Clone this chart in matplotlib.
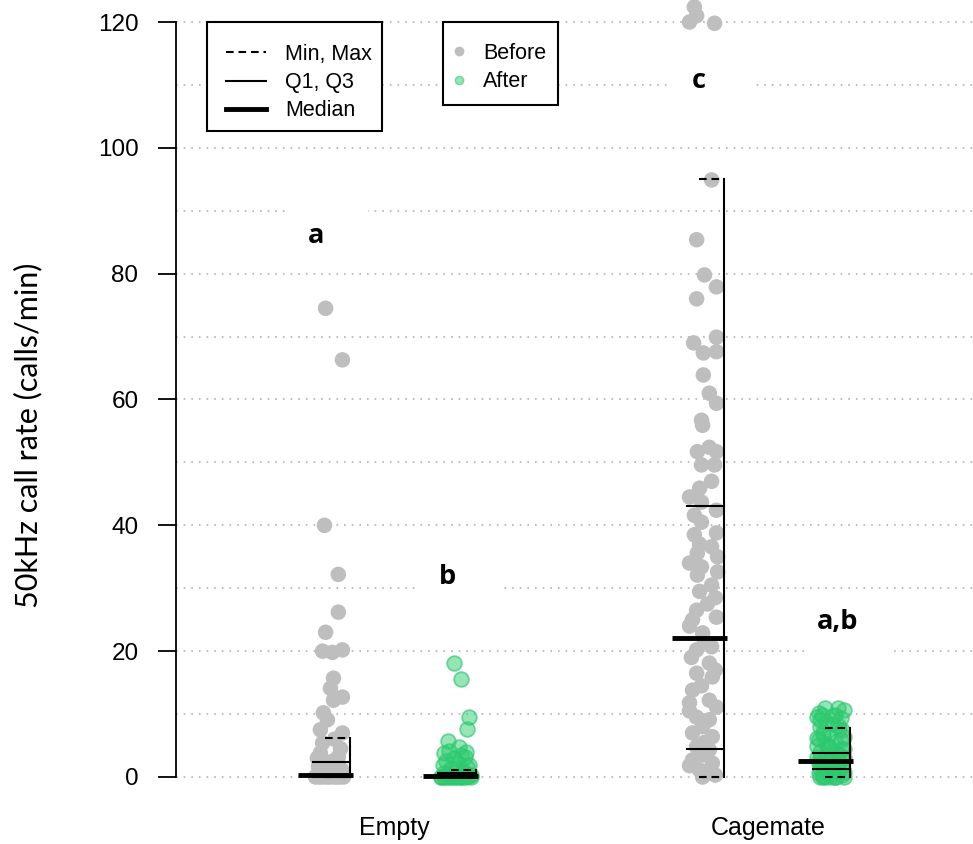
import matplotlib
matplotlib.use('Agg')
import matplotlib.pyplot as plt
from matplotlib.lines import Line2D
from matplotlib.patches import Rectangle
from matplotlib.transforms import blended_transform_factory

plt.rcParams['lines.scale_dashes'] = False
plt.rcParams['font.family'] = ['Liberation Sans', 'DejaVu Sans']

# ---- data ----
categories = ['Empty', 'Cagemate']

empty_before = [74.5, 66.3, 40.0, 32.2, 26.2, 23.0, 20.0, 19.8, 20.2, 15.7, 14.1, 12.7, 12.2, 10.2,
                9.1, 7.5, 7.0, 5.4, 3.8, 3.2, 2.0, 1.6, 1.0, 0.5, 0.2, 0.0, 0.0, 0.0, 0.0, 0.0, 0.0, 0.0,
                6.0, 4.5, 3.0, 2.5, 1.2, 0.8, 0.4, 0.0, 0.0]
empty_before_jit = [-0.013, 0.032, -0.016, 0.021, 0.021, -0.013, -0.021, 0.005, 0.032, 0.008, 0.0, 0.032,
                    0.008, -0.019, -0.008, -0.027, 0.032, -0.021, -0.027, 0.021, -0.003, -0.032, 0.013,
                    0.035, -0.037, -0.040, -0.021, -0.003, 0.016, 0.035, -0.011, 0.024,
                    0.011, 0.027, -0.035, 0.005, 0.029, -0.016, 0.019, 0.008, -0.030]

empty_after = [18.1, 15.6, 9.5, 7.6, 5.7, 4.8, 4.0, 3.8, 3.5, 3.0, 1.9, 1.9, 1.4, 1.0, 0.6, 0.3,
               0.0, 0.0, 0.0, 0.0, 0.0, 0.0, 0.0, 0.0, 0.0, 0.0,
               4.2, 3.2, 2.5, 2.2, 1.6, 1.2, 0.8, 0.5, 0.2, 0.0, 0.0, 0.0]
empty_after_jit = [-0.005, 0.013, 0.035, 0.029, -0.021, 0.008, 0.027, -0.032, 0.013, -0.005, -0.035, 0.035,
                   -0.013, 0.019, -0.032, 0.040, -0.040, -0.027, -0.013, 0.0, 0.013, 0.027, 0.040, -0.019,
                   0.008, -0.040,
                   -0.019, 0.024, -0.027, 0.005, 0.029, -0.008, 0.016, -0.024, 0.032, -0.005, 0.019, -0.032]

cage_before = [122.4, 121.0, 120.0, 119.8, 94.9, 85.4, 79.8, 77.9, 76.0, 69.9, 69.0, 67.4, 67.6, 63.9,
               61.0, 59.4, 56.7, 55.9, 52.4, 51.7, 51.7, 49.6, 49.6, 47.0, 45.9, 44.5, 43.7, 42.4, 41.6,
               40.5, 38.8, 38.5, 37.0, 36.6, 35.6, 35.0, 34.0, 33.4, 32.6, 32.1, 30.5, 29.5, 28.5, 27.5,
               26.5, 25.4, 25.0, 24.0, 22.9, 21.5, 20.7, 20.2, 19.0, 18.1, 17.0, 16.5, 15.9, 14.5, 13.8,
               12.2, 11.8, 11.1, 10.5, 9.5, 9.1, 8.0, 7.0, 6.4, 5.5, 4.8, 4.3, 3.5, 2.7, 2.2, 1.8, 1.1,
               0.6, 0.3, 0.0]
cage_before_jit = [-0.027, -0.021, -0.040, 0.027, 0.019, -0.021, 0.0, 0.032, -0.021, 0.032, -0.029, -0.003,
                   0.032, -0.003, 0.013, 0.032, -0.008, -0.005, 0.013, -0.019, 0.032, -0.008, 0.027, 0.019,
                   -0.013, -0.040, -0.008, 0.032, -0.027, -0.008, 0.032, -0.027, -0.013, 0.019, -0.019,
                   0.035, -0.040, -0.008, 0.035, -0.019, 0.019, -0.013, 0.029, 0.008, -0.021, 0.032,
                   -0.032, -0.040, -0.005, 0.0, 0.019, -0.021, -0.035, 0.013, 0.029, -0.021, 0.021,
                   -0.008, -0.032, 0.013, -0.040, 0.032, -0.040, -0.021, 0.013, -0.005, -0.032, 0.021,
                   0.0, -0.021, 0.013, -0.005, -0.032, 0.021, -0.040, -0.013, 0.013, 0.029, -0.005]

cage_after = [11.0, 11.0, 10.6, 10.2, 9.9, 9.9, 9.5, 9.3, 8.8, 8.4, 8.0, 7.6, 7.2, 6.8, 6.4, 6.0, 5.6,
              5.2, 4.9, 4.5, 4.2, 3.9, 3.6, 3.3, 3.0, 2.7, 2.4, 2.1, 1.8, 1.5, 1.2, 0.9, 0.6, 0.3,
              0.0, 0.0, 0.0, 0.0, 0.0, 0.0,
              9.7, 9.0, 8.2, 7.4, 6.6, 5.8, 5.0, 4.4, 3.8, 3.1, 2.6, 2.0, 1.4, 0.8, 0.4, 0.1,
              6.2, 4.7, 3.4, 2.2, 1.0, 0.0]
cage_after_jit = [-0.016, 0.021, 0.035, -0.032, -0.024, 0.011, -0.035, 0.029, -0.011, 0.008, -0.029, 0.024,
                  -0.019, -0.003, 0.035, -0.032, 0.013, -0.013, -0.035, 0.027, 0.0, -0.027, 0.019, -0.011,
                  0.037, -0.032, 0.008, -0.021, 0.027, -0.027, -0.005, 0.019, -0.032, 0.032, -0.029,
                  -0.013, 0.0, 0.016, 0.035, -0.021,
                  0.003, -0.027, 0.021, 0.032, -0.021, 0.027, -0.008, 0.035, 0.013, -0.035, 0.024,
                  0.011, -0.016, 0.035, 0.008, -0.019,
                  -0.035, -0.003, 0.029, -0.032, 0.024, 0.011]

# summary per group: Empty/Before, Empty/After, Cagemate/Before, Cagemate/After
stat_min = [0.0, 0.0, 0.0, 0.0]
stat_q1 = [0.0, 0.0, 4.5, 1.3]
stat_med = [0.3, 0.15, 22.1, 2.5]
stat_q3 = [2.4, 0.7, 43.0, 3.8]
stat_max = [6.2, 1.1, 95.0, 7.8]

letters = ['a', 'b', 'c', 'a,b']
letter_y = [86.0, 31.8, 110.6, 24.6]

assert len(empty_before) == len(empty_before_jit)
assert len(empty_after) == len(empty_after_jit)
assert len(cage_before) == len(cage_before_jit)
assert len(cage_after) == len(cage_after_jit)

grey = '#bebebe'
green_face = (0.18, 0.8, 0.44, 0.5)
green_edge = (0.18, 0.78, 0.44, 0.65)

W, H = 973, 844
fig = plt.figure(figsize=(W / 100, H / 100), dpi=100)
ax = fig.add_axes([176 / W, 1 - 790 / H, 797 / W, 790 / H])
ax.set_xlim(0.417, 2.548)
ax.set_ylim(-2.07, 123.5)


def ax_frac(px, py):
    # pixel position in the figure -> axes fraction
    return (px - 176) / 797, 1 - py / 790


# dotted grid
for g in range(0, 130, 10):
    ax.axhline(g, color='#c0c0c0', lw=1.5, ls=(0, (1.2, 4.3)), zorder=0)

groups = [
    (empty_before, empty_before_jit, 1 - 0.17, 'before'),
    (empty_after, empty_after_jit, 1 + 0.165, 'after'),
    (cage_before, cage_before_jit, 2 - 0.17, 'before'),
    (cage_after, cage_after_jit, 2 + 0.167, 'after'),
]

for i, (vals, jit, xc, kind) in enumerate(groups):
    xs = [xc + j for j in jit]
    if kind == 'before':
        ax.scatter(xs, vals, s=125, color=grey, edgecolors='none', zorder=2, clip_on=False)
    else:
        ax.scatter(xs, vals, s=112, facecolors=green_face, edgecolors=green_edge,
                   linewidths=1.3, zorder=2, clip_on=False)

    # summary lines, right aligned on a vertical min-max line
    xv = xc + 0.053
    ax.plot([xv, xv], [stat_min[i], stat_max[i]], color='k', lw=1.5, zorder=3)
    for y in (stat_min[i], stat_max[i]):
        ax.plot([xv - 0.067, xv], [y, y], color='k', lw=1.5, ls=(0, (5.5, 3.5)), zorder=3)
    for y in (stat_q1[i], stat_q3[i]):
        ax.plot([xv - 0.1, xv], [y, y], color='k', lw=1.5, zorder=3)
    ax.plot([xv - 0.14, xv + 0.006], [stat_med[i], stat_med[i]], color='k', lw=3.5,
            solid_capstyle='butt', zorder=3)

# significance letters on white boxes
letter_x = [1 - 0.209, 1 + 0.142, 2 - 0.184, 2 + 0.187]
for lab, lx, ly in zip(letters, letter_x, letter_y):
    ax.add_patch(Rectangle((lx - 0.08, ly - 5.1), 0.22, 10.2, fc='white', ec='none', zorder=1))
    ax.text(lx, ly, lab, ha='center', va='center', fontsize=19.5, fontweight='bold',
            family=['Open Sans', 'DejaVu Sans'], zorder=4)

# axes styling
for side in ('top', 'right', 'bottom'):
    ax.spines[side].set_visible(False)
ax.spines['left'].set_bounds(0, 120)
ax.spines['left'].set_linewidth(1.3)
ax.set_yticks(range(0, 121, 20))
ax.tick_params(axis='y', length=13, width=1.3, pad=14, labelsize=17.5)
ax.set_xticks([])

tr = blended_transform_factory(ax.transData, ax.transAxes)
for i, cat in enumerate(categories):
    ax.text(i + 1, -0.048, cat, transform=tr, ha='center', va='center', fontsize=18)

fig.text(28 / W, 1 - 435 / H, '50kHz call rate (calls/min)', rotation=90, ha='center',
         va='center', fontsize=22, family=['Liberation Sans Narrow', 'Lato', 'DejaVu Sans'])

# legend boxes (frames drawn separately, R style)
for (x0, y0, x1, y1) in [(207, 22, 382, 131), (443, 22, 558, 105)]:
    fx0, fy1 = ax_frac(x0, y0)
    fx1, fy0 = ax_frac(x1, y1)
    ax.add_patch(Rectangle((fx0, fy0), fx1 - fx0, fy1 - fy0, transform=ax.transAxes,
                           fc='white', ec='k', lw=1.5, zorder=5, clip_on=False))

h1 = [Line2D([], [], color='k', lw=1.5, ls=(0, (5.5, 3.5))),
      Line2D([], [], color='k', lw=1.5),
      Line2D([], [], color='k', lw=3.5)]
leg1 = ax.legend(h1, ['Min, Max', 'Q1, Q3', 'Median'], loc='upper left',
                 bbox_to_anchor=ax_frac(226, 44), borderaxespad=0, borderpad=0, fontsize=15.5,
                 handlelength=1.86, handletextpad=0.88, labelspacing=0.33, frameon=False)
leg1.set_zorder(6)
ax.add_artist(leg1)

h2 = [Line2D([], [], ls='none', marker='o', ms=6, color=grey),
      Line2D([], [], ls='none', marker='o', ms=6, markerfacecolor=(0.18, 0.8, 0.44, 0.5),
             markeredgecolor=(0.18, 0.8, 0.44, 0.6))]
leg2 = ax.legend(h2, ['Before', 'After'], loc='upper left', bbox_to_anchor=ax_frac(452.5, 43),
                 borderaxespad=0, borderpad=0, fontsize=15.5, handlelength=0.6,
                 handletextpad=0.81, labelspacing=0.33, frameon=False)
leg2.set_zorder(6)

fig.savefig('out.png', dpi=100)
